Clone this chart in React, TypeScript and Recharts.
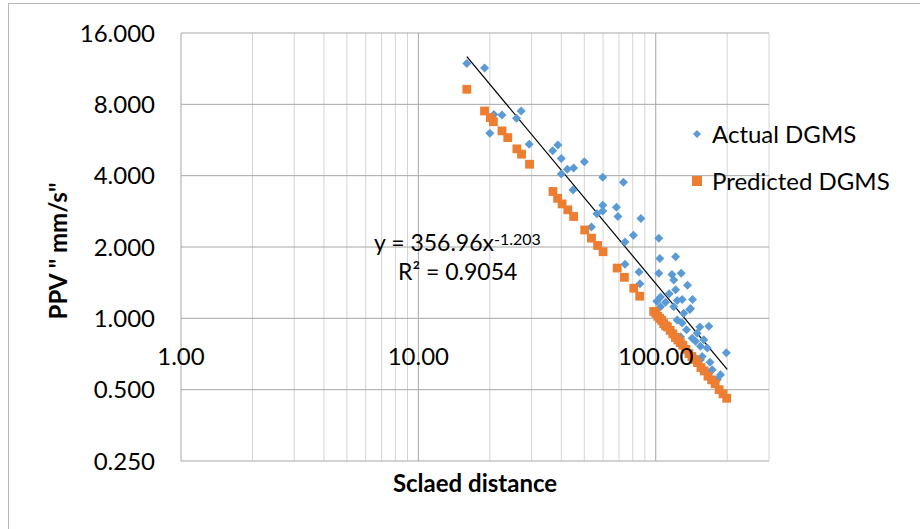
import { ScatterChart, Scatter, XAxis, YAxis, CartesianGrid, ReferenceLine, Legend } from 'recharts';

// Actual DGMS (blue diamonds)
const actualDist = [
  16.0, 19.0, 20.0, 20.8, 22.5, 25.9, 27.1, 29.3, 36.8, 38.7, 40.0, 40.0, 42.4, 45.1, 50.0, 44.8,
  59.8, 73.1, 59.8, 59.8, 56.5, 68.3, 69.3, 86.6, 53.6, 80.5, 74.2, 103.0, 104.0, 121.3, 74.2, 85.0,
  103.0, 117.0, 128.0, 119.1, 85.8, 136.1, 121.3, 113.9, 104.7, 123.1, 142.8, 101.0, 109.9, 139.1,
  123.1, 129.2, 153.3, 167.3, 134.8, 147.1, 159.4, 164.8, 169.3, 198.3, 187.4, 131.2, 140.1, 154.3,
  167.3, 181.5, 129.2, 119.1, 131.2, 140.1, 149.5, 127.1, 154.3, 172.9, 156.9, 104.7, 142.4,
];
const actualPpv = [
  11.9, 11.4, 6.04, 7.25, 7.21, 6.99, 7.5, 5.43, 5.09, 5.39, 4.73, 4.07, 4.26, 4.31, 4.58, 3.48,
  3.94, 3.75, 3.0, 2.84, 2.76, 2.94, 2.69, 2.64, 2.43, 2.24, 2.1, 2.18, 1.79, 1.82, 1.69, 1.57,
  1.55, 1.53, 1.55, 1.45, 1.4, 1.38, 1.32, 1.27, 1.23, 1.19, 1.2, 1.18, 1.17, 1.09,
  0.985, 0.955, 0.919, 0.926, 0.895, 0.8, 0.813, 0.75, 0.653, 0.715, 0.578, 0.762, 0.69, 0.669,
  0.587, 0.55, 1.2, 1.12, 1.05, 1.1, 0.865, 0.836, 0.762, 0.607, 0.69, 1.12, 0.825,
];

// Predicted DGMS (orange squares)
const predictedDist = [
  16.0, 19.0, 20.1, 20.7, 22.5, 23.8, 26.0, 27.2, 29.4, 36.9, 38.6, 40.3, 42.6, 45.1, 50.2, 53.6,
  56.9, 60.0, 68.8, 73.8, 80.8, 85.6, 98, 100, 102, 104, 106, 108, 110, 112, 115, 118, 121, 124,
  127, 130, 134, 138, 142, 146, 150, 155, 160, 166, 172, 178, 185, 192, 199,
];
const predictedPpv = [
  9.26, 7.5, 7.03, 6.76, 6.18, 5.79, 5.19, 4.93, 4.47, 3.43, 3.21, 3.04, 2.87, 2.69, 2.36, 2.18,
  2.03, 1.91, 1.63, 1.49, 1.34, 1.24, 1.07, 1.05, 1.02, 1.0, 0.98, 0.95, 0.93, 0.92, 0.89, 0.86, 0.83, 0.81,
  0.79, 0.77, 0.74, 0.71, 0.69, 0.67, 0.65, 0.62, 0.6, 0.57, 0.55, 0.53, 0.5, 0.48, 0.46,
];

const yTicks = [0.25, 0.5, 1, 2, 4, 8, 16];
const xTicks = [1, 10, 100];
const xMinorGrid = [2, 3, 4, 5, 6, 7, 8, 9, 20, 30, 40, 50, 60, 70, 80, 90, 200, 300];

// power trendline y = 356.96 x^-1.203
const trendA = 356.96;
const trendB = -1.203;
const trendFrom = 16;
const trendTo = 200;

const actualData = actualDist.map((d, i) => ({ x: d, y: actualPpv[i] }));
const predictedData = predictedDist.map((d, i) => ({ x: d, y: predictedPpv[i] }));

const FONT = 'Lato, "Open Sans", sans-serif';
const BLUE = '#5b9bd5';
const ORANGE = '#ed7d31';

const Diamond = (props: any) => {
  const { cx, cy } = props;
  const r = 4.5;
  return <path d={`M${cx},${cy - r}L${cx + r},${cy}L${cx},${cy + r}L${cx - r},${cy}Z`} fill={BLUE} />;
};

const Square = (props: any) => {
  const { cx, cy } = props;
  return <rect x={cx - 4.4} y={cy - 4.4} width={8.8} height={8.8} fill={ORANGE} />;
};

const XTick = (props: any) => {
  const { x, y, payload } = props;
  return (
    <text x={x} y={y - 96} textAnchor="middle" fontSize={24} fontFamily={FONT} fill="#000">
      {Number(payload.value).toFixed(2)}
    </text>
  );
};

const LegendBox = () => (
  <div style={{ fontFamily: FONT, fontSize: 24, color: '#000', lineHeight: '47px' }}>
    <div style={{ display: 'flex', alignItems: 'center' }}>
      <svg width={16} height={16} style={{ marginRight: 7 }}>
        <path d="M8,4L12,8L8,12L4,8Z" fill={BLUE} />
      </svg>
      Actual DGMS
    </div>
    <div style={{ display: 'flex', alignItems: 'center' }}>
      <svg width={16} height={16} style={{ marginRight: 7 }}>
        <rect x={3} y={3} width={10} height={10} fill={ORANGE} />
      </svg>
      Predicted DGMS
    </div>
  </div>
);

export default function App() {
  return (
    <div style={{ position: 'absolute', left: 0, top: 0, width: 920, height: 529, overflow: 'hidden', background: '#fff' }}>
      <div style={{ position: 'absolute', left: 8, top: 3, width: 960, height: 560, border: '1px solid #b8b8b8' }} />
      <div style={{ position: 'absolute', left: 0, top: 0 }}>
        <ScatterChart width={920} height={529} margin={{ top: 33, right: 151, bottom: 0, left: 0 }}>
          <CartesianGrid verticalValues={xMinorGrid} horizontal={false} stroke="#d4d4d4" strokeWidth={1} />
          <CartesianGrid verticalValues={xTicks} horizontalValues={yTicks} stroke="#a6a6a6" strokeWidth={1} />
          <XAxis
            type="number"
            dataKey="x"
            scale="log"
            domain={[1, 300]}
            ticks={xTicks}
            interval={0}
            allowDataOverflow
            height={68}
            axisLine={false}
            tickLine={false}
            tickSize={0}
            tickMargin={0}
            tick={<XTick />}
            label={{
              value: 'Sclaed distance',
              position: 'insideTop',
              offset: 14,
              fontSize: 24,
              fontWeight: 'bold',
              fontFamily: FONT,
              fill: '#000',
            }}
          />
          <YAxis
            type="number"
            dataKey="y"
            scale="log"
            domain={[0.25, 16]}
            ticks={yTicks}
            interval={0}
            allowDataOverflow
            width={181}
            axisLine={false}
            tickLine={false}
            tickSize={0}
            tickMargin={26}
            tickFormatter={(v: number) => v.toFixed(3)}
            tick={{ fontSize: 24, fontFamily: FONT, fill: '#000' }}
            label={{
              content: () => (
                <text
                  transform="translate(67,251) rotate(-90)"
                  textAnchor="middle"
                  fontSize={24}
                  fontWeight="bold"
                  fontFamily={FONT}
                  fill="#000"
                >
                  PPV " mm/s"
                </text>
              ),
            }}
          />
          <Legend
            layout="horizontal"
            verticalAlign="middle"
            align="center"
            wrapperStyle={{ left: 689, top: 110, width: 230 }}
            content={<LegendBox />}
          />
          <Scatter name="Actual DGMS" data={actualData} shape={<Diamond />} isAnimationActive={false} />
          <Scatter name="Predicted DGMS" data={predictedData} shape={<Square />} isAnimationActive={false} />
          <ReferenceLine
            segment={[
              { x: trendFrom, y: trendA * Math.pow(trendFrom, trendB) },
              { x: trendTo, y: trendA * Math.pow(trendTo, trendB) },
            ]}
            stroke="#000"
            strokeWidth={1.2}
          />
        </ScatterChart>
      </div>
      <div style={{ position: 'absolute', left: 374, top: 228, fontFamily: FONT, fontSize: 23, color: '#000', lineHeight: '29px', whiteSpace: 'nowrap' }}>
        <div>
          y = 356.96x<sup style={{ fontSize: 16, verticalAlign: 'top', position: 'relative', top: -4 }}>-1.203</sup>
        </div>
        <div style={{ paddingLeft: 24 }}>
          R² = 0.9054
        </div>
      </div>
    </div>
  );
}
